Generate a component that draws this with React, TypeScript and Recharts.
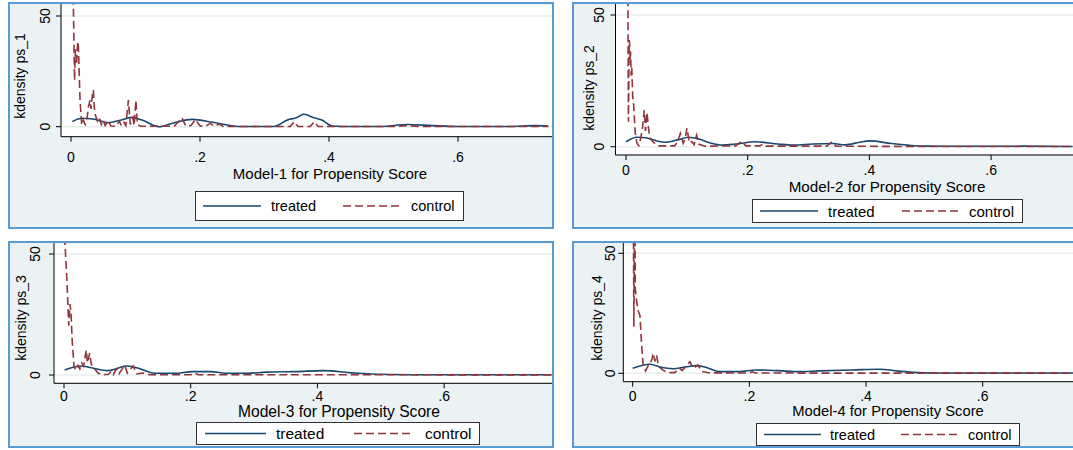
import React from 'react';
import { LineChart, Line, XAxis, YAxis, CartesianGrid, Legend } from 'recharts';

// ---------- data ----------
const xTicks = [0, 0.2, 0.4, 0.6];
const xTickLabels = ['0', '.2', '.4', '.6'];
const yTicks = [0, 50];
const yTickLabels = ['0', '50'];
const seriesNames = ['treated', 'control'];
const yTitles = ['kdensity ps_1', 'kdensity ps_2', 'kdensity ps_3', 'kdensity ps_4'];
const xTitles = [
  'Model-1 for Propensity Score',
  'Model-2 for Propensity Score',
  'Model-3 for Propensity Score',
  'Model-4 for Propensity Score',
];

// Panel 1
const p1TreatedX = [0.002, 0.017, 0.034, 0.058, 0.075, 0.094, 0.11, 0.136, 0.16, 0.188, 0.22, 0.26, 0.314, 0.337, 0.348, 0.361, 0.378, 0.389, 0.405, 0.42, 0.48, 0.522, 0.56, 0.6, 0.68, 0.72, 0.74];
const p1TreatedY = [2.3, 3.8, 3.5, 1.8, 2.8, 4.2, 3.0, 0.0, 1.8, 3.3, 2.0, 0.1, 0.1, 3.2, 3.9, 5.6, 3.9, 3.0, 0.3, 0.1, 0.1, 1.0, 0.5, 0.1, 0.1, 0.5, 0.3];
const p1ControlX = [0.0025, 0.0045, 0.0052, 0.0056, 0.0062, 0.007, 0.0085, 0.0105, 0.0115, 0.0124, 0.014, 0.0166, 0.019, 0.022, 0.025, 0.027, 0.0295, 0.031, 0.033, 0.0347, 0.036, 0.038, 0.041, 0.044, 0.047, 0.05, 0.053, 0.058, 0.062, 0.07, 0.075, 0.078, 0.082, 0.085, 0.089, 0.092, 0.096, 0.098, 0.1006, 0.103, 0.108, 0.16, 0.172, 0.178, 0.186, 0.193, 0.2, 0.21, 0.216, 0.222, 0.23, 0.236, 0.34, 0.346, 0.352, 0.371, 0.377, 0.383, 0.5, 0.52, 0.54, 0.74];
const p1ControlY = [75, 40, 27, 21, 30, 35, 28, 38.5, 36, 27, 12, 0.8, 3, 1, 4, 9, 12, 8, 14, 16.6, 9, 5, 2.5, 4, 1, 3, 0.5, 2.5, 0.3, 0.2, 2.5, 0.5, 2, 0.5, 12, 1, 4, 0.5, 12, 1, 0.2, 0.2, 4, 0.3, 0.5, 3.3, 0.3, 0.5, 1.5, 0.2, 1.2, 0.1, 0.1, 2.2, 0.1, 0.1, 2.2, 0.1, 0.1, 0.5, 0.1, 0.1];

// Panel 2
const p2TreatedX = [0, 0.018, 0.032, 0.049, 0.067, 0.085, 0.103, 0.12, 0.14, 0.158, 0.18, 0.2125, 0.25, 0.275, 0.307, 0.34, 0.36, 0.384, 0.4, 0.436, 0.463, 0.494, 0.55, 0.65, 0.734];
const p2TreatedY = [1.9, 3.6, 3.4, 2.3, 1.7, 2.6, 3.6, 2.9, 1.3, 0.6, 1.0, 1.9, 1.0, 0.6, 1.0, 1.2, 0.7, 1.7, 2.2, 1.2, 0.6, 0.2, 0.15, 0.2, 0.1];
const p2ControlX = [0.003, 0.0036, 0.004, 0.0046, 0.0052, 0.006, 0.0068, 0.0075, 0.0085, 0.0095, 0.011, 0.0125, 0.0153, 0.018, 0.021, 0.024, 0.027, 0.03, 0.032, 0.0345, 0.037, 0.039, 0.044, 0.049, 0.054, 0.08, 0.085, 0.0893, 0.094, 0.097, 0.1003, 0.104, 0.108, 0.112, 0.116, 0.12, 0.13, 0.18, 0.19, 0.197, 0.22, 0.225, 0.23, 0.33, 0.3385, 0.345, 0.5, 0.734];
const p2ControlY = [70, 30, 9.5, 25, 40.5, 39, 33, 36, 27, 30, 19, 16, 5, 1.3, 0.4, 3, 7, 13.9, 6, 13, 7, 3.3, 2, 0.8, 0.3, 0.3, 2, 5, 1.3, 3, 7, 1.5, 2, 0.8, 4.4, 0.9, 0.2, 0.3, 2, 0.3, 0.3, 1, 0.2, 0.2, 1.9, 0.2, 0.05, 0.05];

// Panel 3
const p3TreatedX = [0.001, 0.027, 0.043, 0.069, 0.085, 0.098, 0.115, 0.143, 0.175, 0.203, 0.23, 0.26, 0.29, 0.32, 0.365, 0.41, 0.45, 0.493, 0.55, 0.77];
const p3TreatedY = [2.07, 3.7, 3.0, 1.8, 2.8, 3.7, 3.0, 0.7, 0.7, 1.4, 1.4, 0.7, 0.7, 1.2, 1.4, 1.8, 1.0, 0.3, 0.1, 0.1];
const p3ControlX = [0.0008, 0.002, 0.0045, 0.0063, 0.0075, 0.0095, 0.011, 0.013, 0.0158, 0.019, 0.022, 0.025, 0.028, 0.031, 0.033, 0.0352, 0.037, 0.0405, 0.043, 0.047, 0.0537, 0.06, 0.07, 0.075, 0.078, 0.0826, 0.087, 0.0958, 0.1, 0.109, 0.115, 0.125, 0.135, 0.2, 0.206, 0.212, 0.35, 0.355, 0.36, 0.77];
const p3ControlY = [57, 52, 40, 28, 20.4, 29.3, 26, 14, 3.4, 2, 4, 2.5, 5, 3.7, 7, 10.3, 5, 9, 4.5, 3, 0.8, 0.1, 0.3, 1.5, 0.2, 2.5, 0.5, 4.1, 0.8, 3.7, 0.5, 0.8, 0.1, 0.1, 0.8, 0.1, 0.1, 0.6, 0.1, 0.05];

// Panel 4
const p4TreatedX = [0, 0.0296, 0.047, 0.0695, 0.09, 0.1095, 0.125, 0.149, 0.183, 0.211, 0.25, 0.285, 0.32, 0.377, 0.423, 0.455, 0.48, 0.52, 0.755];
const p4TreatedY = [2.1, 3.75, 2.6, 1.9, 2.6, 3.2, 2.5, 0.7, 0.7, 1.4, 1.1, 0.7, 1.0, 1.4, 1.7, 0.9, 0.4, 0.15, 0.1];
const p4ControlX = [0.001, 0.002, 0.0035, 0.0045, 0.0068, 0.0095, 0.0125, 0.015, 0.018, 0.022, 0.026, 0.03, 0.033, 0.0353, 0.038, 0.041, 0.044, 0.052, 0.06, 0.072, 0.08, 0.085, 0.09, 0.098, 0.104, 0.112, 0.118, 0.13, 0.2, 0.205, 0.21, 0.755];
const p4ControlY = [75, 19.4, 75, 35, 29.8, 26, 24, 13, 2.75, 1, 3, 4, 6, 8.3, 5, 7.6, 3, 1.3, 0.3, 0.3, 2, 1.2, 2.5, 4.8, 2, 3.5, 0.8, 0.2, 0.1, 0.6, 0.1, 0.05];

const zip = (xs: number[], ys: number[]) => xs.map((v, i) => ({ v, d: ys[i] }));

// ---------- layout (page coordinates) ----------
const layouts = [
  {
    frame: { l: 8, t: 2, r: 554, b: 229 },
    plot: { l: 61, t: 4, r: 552, b: 136.7 },
    x0: 71, xk: 645, y0: 126.7, yk: 2.214,
    xTickY: 157, yTickX: 45, yTitleX: 20, yTitleY: 76,
    xTitleX: 330, xTitleY: 173, titleFont: 15, tickFont: 14,
    legend: { l: 195, t: 191, w: 269, h: 30, t1: 7, t2: 65, tt: 75, c1: 147, c2: 205, ct: 215, font: 14.5 },
  },
  {
    frame: { l: 572, t: 2, r: 1085, b: 229 },
    plot: { l: 615.5, t: 4, r: 1073, b: 155 },
    x0: 626, xk: 608.5, y0: 146.7, yk: 2.634,
    xTickY: 169.5, yTickX: 599, yTitleX: 589, yTitleY: 88,
    xTitleX: 887, xTitleY: 186, titleFont: 15.2, tickFont: 14,
    legend: { l: 752, t: 199, w: 271, h: 24, t1: 7, t2: 65, tt: 75, c1: 149, c2: 207, ct: 216, font: 15 },
  },
  {
    frame: { l: 8, t: 241, r: 554, b: 448 },
    plot: { l: 54, t: 243, r: 552, b: 383.3 },
    x0: 64, xk: 633.5, y0: 375, yk: 2.42,
    xTickY: 396, yTickX: 35, yTitleX: 21, yTitleY: 318,
    xTitleX: 339, xTitleY: 411, titleFont: 15.6, tickFont: 14,
    legend: { l: 196, t: 421.5, w: 284, h: 23, t1: 8, t2: 69, tt: 79, c1: 157, c2: 214, ct: 228, font: 15.5 },
  },
  {
    frame: { l: 572, t: 241, r: 1085, b: 448 },
    plot: { l: 623.3, t: 243, r: 1073, b: 381.7 },
    x0: 632.7, xk: 583.3, y0: 373.3, yk: 2.4,
    xTickY: 395.5, yTickX: 610, yTitleX: 597, yTitleY: 318,
    xTitleX: 888, xTitleY: 410.5, titleFont: 14.8, tickFont: 14,
    legend: { l: 756, t: 423, w: 264, h: 23, t1: 7, t2: 64, tt: 73, c1: 144, c2: 202, ct: 211, font: 14.5 },
  },
];

const panelsData = [
  { treated: zip(p1TreatedX, p1TreatedY), control: zip(p1ControlX, p1ControlY) },
  { treated: zip(p2TreatedX, p2TreatedY), control: zip(p2ControlX, p2ControlY) },
  { treated: zip(p3TreatedX, p3TreatedY), control: zip(p3ControlX, p3ControlY) },
  { treated: zip(p4TreatedX, p4TreatedY), control: zip(p4ControlX, p4ControlY) },
];

const FONT = '"Liberation Sans", Arial, Helvetica, sans-serif';
const TREATED = '#1a476f';
const CONTROL = '#90353b';
const BW = 2;

function Panel({ idx }: { idx: number }) {
  const cfg = layouts[idx];
  const data = panelsData[idx];
  const iL = cfg.frame.l + BW;
  const iT = cfg.frame.t + BW;
  const W = cfg.frame.r - cfg.frame.l - 2 * BW;
  const H = cfg.frame.b - cfg.frame.t - 2 * BW;
  const plotL = cfg.plot.l - iL;
  const plotT = cfg.plot.t - iT;
  const plotR = cfg.plot.r - iL;
  const plotB = cfg.plot.b - iT;
  const xmin = (cfg.plot.l - cfg.x0) / cfg.xk;
  const xmax = (cfg.plot.r - cfg.x0) / cfg.xk;
  const ymin = (cfg.y0 - cfg.plot.b) / cfg.yk;
  const ymax = (cfg.y0 - cfg.plot.t) / cfg.yk;
  const lg = cfg.legend;

  const XTick = (props: any) => {
    const { x, payload } = props;
    const i = xTicks.indexOf(payload.value);
    return (
      <text x={x} y={cfg.xTickY - iT} textAnchor="middle" dominantBaseline="central"
        fontFamily={FONT} fontSize={cfg.tickFont} fill="#000">
        {i >= 0 ? xTickLabels[i] : ''}
      </text>
    );
  };
  const YTick = (props: any) => {
    const { y, payload } = props;
    const i = yTicks.indexOf(payload.value);
    const cx = cfg.yTickX - iL;
    return (
      <text x={cx} y={y} transform={`rotate(-90 ${cx} ${y})`} textAnchor="middle" dominantBaseline="central"
        fontFamily={FONT} fontSize={cfg.tickFont} fill="#000">
        {i >= 0 ? yTickLabels[i] : ''}
      </text>
    );
  };

  const legendContent = () => (
    <div style={{ width: lg.w, height: lg.h, boxSizing: 'border-box', border: '1px solid #333', background: '#fff' }}>
      <svg width={lg.w - 2} height={lg.h - 2} style={{ display: 'block' }}>
        <line x1={lg.t1} x2={lg.t2} y1={(lg.h - 2) / 2} y2={(lg.h - 2) / 2} stroke={TREATED} strokeWidth={1.6} />
        <text x={lg.tt} y={(lg.h - 2) / 2} dominantBaseline="central" fontFamily={FONT} fontSize={lg.font} fill="#000">{seriesNames[0]}</text>
        <line x1={lg.c1} x2={lg.c2} y1={(lg.h - 2) / 2} y2={(lg.h - 2) / 2} stroke={CONTROL} strokeWidth={1.6} strokeDasharray="8 4" />
        <text x={lg.ct} y={(lg.h - 2) / 2} dominantBaseline="central" fontFamily={FONT} fontSize={lg.font} fill="#000">{seriesNames[1]}</text>
      </svg>
    </div>
  );

  return (
    <div style={{
      position: 'absolute', left: cfg.frame.l, top: cfg.frame.t,
      width: cfg.frame.r - cfg.frame.l, height: cfg.frame.b - cfg.frame.t,
      boxSizing: 'border-box', border: `${BW}px solid #5b9bd5`, background: '#eaf2f3', overflow: 'hidden',
    }}>
      <LineChart width={W} height={H} margin={{ top: plotT, right: W - plotR, bottom: 0, left: 0 }}>
        <CartesianGrid fill="#ffffff" vertical={false} stroke="#e6eef0" strokeWidth={1.5} />
        <XAxis dataKey="v" type="number" domain={[xmin, xmax]} allowDataOverflow ticks={xTicks} interval={0}
          height={H - plotB} tickSize={5} stroke="#000" tickLine={{ stroke: '#000' }} tick={<XTick />}
          label={{
            value: xTitles[idx],
            content: () => (
              <text x={cfg.xTitleX - iL} y={cfg.xTitleY - iT} textAnchor="middle" dominantBaseline="central"
                fontFamily={FONT} fontSize={cfg.titleFont} fill="#000">{xTitles[idx]}</text>
            ),
          }} />
        <YAxis type="number" domain={[ymin, ymax]} allowDataOverflow ticks={yTicks} interval={0}
          width={plotL} tickSize={5} stroke="#000" tickLine={{ stroke: '#000' }} tick={<YTick />}
          label={{
            value: yTitles[idx],
            content: () => {
              const cx = cfg.yTitleX - iL;
              const cy = cfg.yTitleY - iT;
              return (
                <text x={cx} y={cy} transform={`rotate(-90 ${cx} ${cy})`} textAnchor="middle" dominantBaseline="central"
                  fontFamily={FONT} fontSize={14} fill="#000">{yTitles[idx]}</text>
              );
            },
          }} />
        <Line data={data.treated} dataKey="d" type="monotone" stroke={TREATED} strokeWidth={1.6}
          dot={false} activeDot={false} isAnimationActive={false} name={seriesNames[0]} />
        <Line data={data.control} dataKey="d" type="linear" stroke={CONTROL} strokeWidth={1.6} strokeDasharray="8 4"
          dot={false} activeDot={false} isAnimationActive={false} name={seriesNames[1]} />
        <Legend layout="vertical" align="center" verticalAlign="middle"
          wrapperStyle={{ left: lg.l - iL, top: lg.t - iT, width: lg.w, height: lg.h }}
          content={legendContent} />
      </LineChart>
    </div>
  );
}

export default function App() {
  return (
    <div style={{ position: 'absolute', left: 0, top: 0, width: 1073, height: 450, overflow: 'hidden', background: '#fff' }}>
      {[0, 1, 2, 3].map((i) => <Panel key={i} idx={i} />)}
    </div>
  );
}
